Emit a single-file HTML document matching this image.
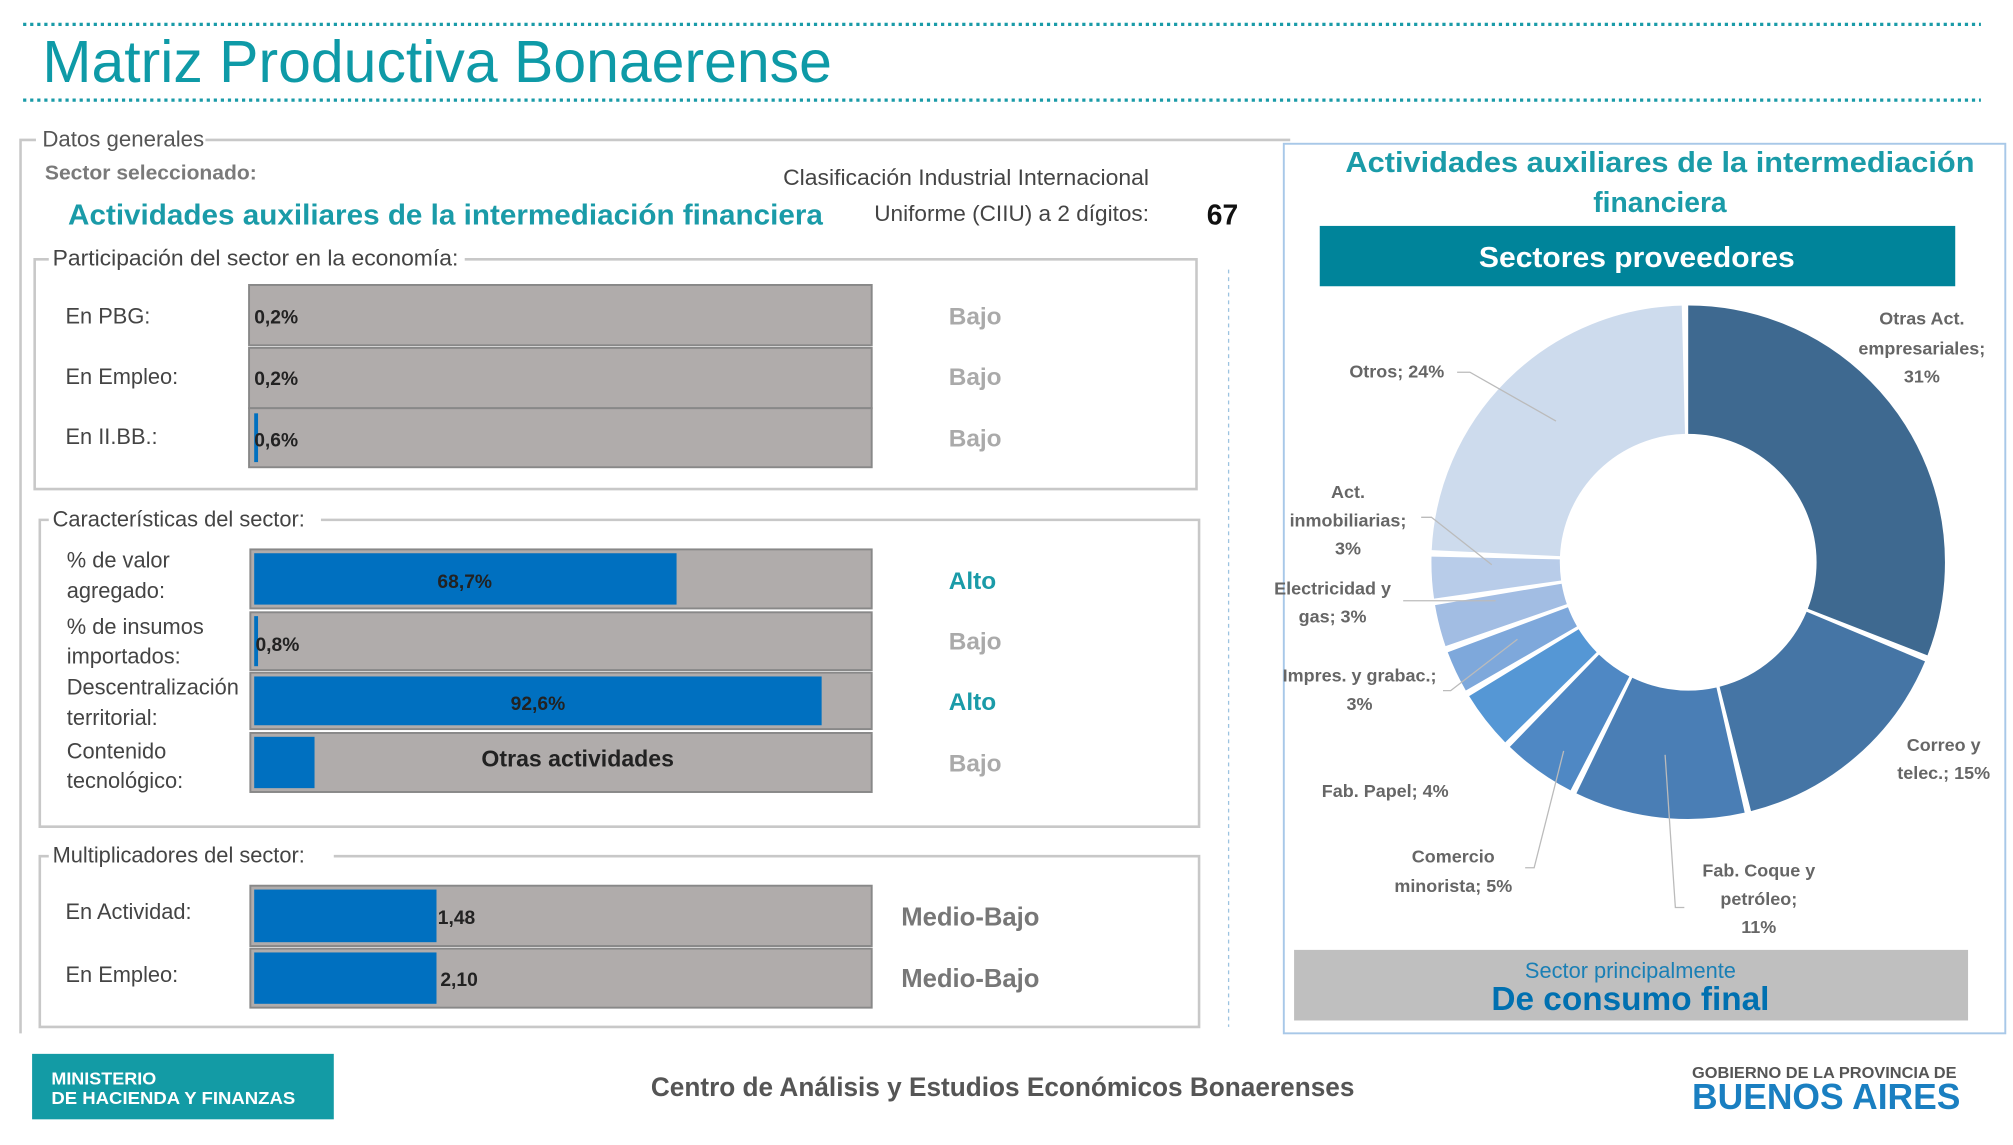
<!DOCTYPE html>
<html><head><meta charset="utf-8"><style>html,body{margin:0;padding:0;background:#fff;}svg{display:block;}</style></head>
<body>
<svg width="2013" height="1145" viewBox="0 0 1568 892" preserveAspectRatio="none" xmlns="http://www.w3.org/2000/svg" font-family="Liberation Sans, sans-serif">
<rect width="1568" height="892" fill="#fff"/>
<!-- header -->
<line x1="18" y1="19" x2="1543" y2="19" stroke="#1a9ba8" stroke-width="2.5" stroke-dasharray="2.5 3"/>
<line x1="18" y1="78" x2="1543" y2="78" stroke="#1a9ba8" stroke-width="2.5" stroke-dasharray="2.5 3"/>
<text x="33" y="64" font-size="46" fill="#0e9aa7" textLength="615" lengthAdjust="spacingAndGlyphs">Matriz Productiva Bonaerense</text>

<!-- Datos generales frame -->
<path d="M160 109 H1005 M28 109 H16 V805" stroke="#c8c8c8" stroke-width="2" fill="none"/>
<text x="33" y="114" font-size="17" fill="#555" textLength="126" lengthAdjust="spacingAndGlyphs">Datos generales</text>
<text x="35" y="140" font-size="16" font-weight="bold" fill="#7a7a7a" textLength="165" lengthAdjust="spacingAndGlyphs">Sector seleccionado:</text>
<text x="53" y="175" font-size="22" font-weight="bold" fill="#1a9ba8" textLength="588" lengthAdjust="spacingAndGlyphs">Actividades auxiliares de la intermediación financiera</text>
<text x="895" y="144" font-size="17" fill="#444" text-anchor="end" textLength="285" lengthAdjust="spacingAndGlyphs">Clasificación Industrial Internacional</text>
<text x="895" y="172" font-size="17" fill="#444" text-anchor="end" textLength="214" lengthAdjust="spacingAndGlyphs">Uniforme (CIIU) a 2 dígitos:</text>
<text x="940" y="175" font-size="22" font-weight="bold" fill="#111">67</text>

<!-- Participación -->
<path d="M38 202 H27 V381 H932 V202 H362" stroke="#c8c8c8" stroke-width="2" fill="none"/>
<text x="41" y="207" font-size="17" fill="#444" textLength="316" lengthAdjust="spacingAndGlyphs">Participación del sector en la economía:</text>
<g font-size="17" fill="#444">
<text x="51" y="252">En PBG:</text><text x="51" y="299">En Empleo:</text><text x="51" y="346">En II.BB.:</text>
</g>
<g stroke="#888" stroke-width="1.5" fill="#b0acab">
<rect x="194" y="222" width="485" height="47"/><rect x="194" y="271" width="485" height="47"/><rect x="194" y="318" width="485" height="46"/>
</g>
<rect x="198" y="322" width="3" height="38" fill="#0070c0"/>
<g font-size="15" font-weight="bold" fill="#222">
<text x="198" y="252">0,2%</text><text x="198" y="300">0,2%</text><text x="198" y="348">0,6%</text>
</g>
<g font-size="19" font-weight="bold" fill="#aaa">
<text x="739" y="253">Bajo</text><text x="739" y="300">Bajo</text><text x="739" y="348">Bajo</text>
</g>

<!-- Características -->
<path d="M38 405 H31 V644 H934 V405 H250" stroke="#c8c8c8" stroke-width="2" fill="none"/>
<text x="41" y="410" font-size="17" fill="#444">Características del sector:</text>
<g font-size="17" fill="#444">
<text x="52" y="442">% de valor</text><text x="52" y="466">agregado:</text>
<text x="52" y="494">% de insumos</text><text x="52" y="517">importados:</text>
<text x="52" y="541">Descentralización</text><text x="52" y="565">territorial:</text>
<text x="52" y="591">Contenido</text><text x="52" y="614">tecnológico:</text>
</g>
<g stroke="#888" stroke-width="1.5" fill="#b0acab">
<rect x="195" y="428" width="484" height="46"/><rect x="195" y="477" width="484" height="45"/><rect x="195" y="524" width="484" height="44"/><rect x="195" y="571" width="484" height="46"/>
</g>
<rect x="198" y="431" width="329" height="40" fill="#0070c0"/>
<rect x="198" y="480" width="3" height="39" fill="#0070c0"/>
<rect x="198" y="527" width="442" height="38" fill="#0070c0"/>
<rect x="198" y="574" width="47" height="40" fill="#0070c0"/>
<g font-size="15" font-weight="bold" fill="#222">
<text x="362" y="458" text-anchor="middle">68,7%</text><text x="199" y="507">0,8%</text><text x="419" y="553" text-anchor="middle">92,6%</text>
</g>
<text x="450" y="597" font-size="18" font-weight="bold" fill="#222" text-anchor="middle">Otras actividades</text>
<g font-size="19" font-weight="bold">
<text x="739" y="459" fill="#1a9ba8">Alto</text><text x="739" y="506" fill="#aaa">Bajo</text><text x="739" y="553" fill="#1a9ba8">Alto</text><text x="739" y="601" fill="#aaa">Bajo</text>
</g>

<!-- Multiplicadores -->
<path d="M38 667 H31 V800 H934 V667 H260" stroke="#c8c8c8" stroke-width="2" fill="none"/>
<text x="41" y="672" font-size="17" fill="#444">Multiplicadores del sector:</text>
<g font-size="17" fill="#444"><text x="51" y="716">En Actividad:</text><text x="51" y="765">En Empleo:</text></g>
<g stroke="#888" stroke-width="1.5" fill="#b0acab">
<rect x="195" y="690" width="484" height="47"/><rect x="195" y="739" width="484" height="46"/>
</g>
<rect x="198" y="693" width="142" height="41" fill="#0070c0"/>
<rect x="198" y="742" width="142" height="40" fill="#0070c0"/>
<g font-size="15" font-weight="bold" fill="#222"><text x="341" y="720">1,48</text><text x="343" y="768">2,10</text></g>
<g font-size="20" font-weight="bold" fill="#777"><text x="702" y="721">Medio-Bajo</text><text x="702" y="769">Medio-Bajo</text></g>

<line x1="957" y1="210" x2="957" y2="800" stroke="#9cc3e0" stroke-width="1" stroke-dasharray="3 3"/>

<!-- Right panel -->
<rect x="1000" y="112" width="562" height="693" fill="none" stroke="#a8c8e8" stroke-width="1.5"/>
<text x="1293" y="134" font-size="22" font-weight="bold" fill="#1a9ba8" text-anchor="middle" textLength="490" lengthAdjust="spacingAndGlyphs">Actividades auxiliares de la intermediación</text>
<text x="1293" y="165" font-size="22" font-weight="bold" fill="#1a9ba8" text-anchor="middle">financiera</text>
<rect x="1028" y="176" width="495" height="47" fill="#00849a"/>
<text x="1275" y="208" font-size="22" font-weight="bold" fill="#fff" text-anchor="middle" textLength="246" lengthAdjust="spacingAndGlyphs">Sectores proveedores</text>

<!-- Donut -->
<g transform="translate(1315 438) rotate(-90)" fill="none" stroke-width="100">
<circle r="150" pathLength="99" stroke="#3e6990" stroke-dasharray="30.6 99" stroke-dashoffset="0"/>
<circle r="150" pathLength="99" stroke="#4575a5" stroke-dasharray="14.6 99" stroke-dashoffset="-31"/>
<circle r="150" pathLength="99" stroke="#4a7eb5" stroke-dasharray="10.6 99" stroke-dashoffset="-46"/>
<circle r="150" pathLength="99" stroke="#4f88c4" stroke-dasharray="4.6 99" stroke-dashoffset="-57"/>
<circle r="150" pathLength="99" stroke="#5597d5" stroke-dasharray="3.6 99" stroke-dashoffset="-62"/>
<circle r="150" pathLength="99" stroke="#7ea8db" stroke-dasharray="2.6 99" stroke-dashoffset="-66"/>
<circle r="150" pathLength="99" stroke="#a2bde3" stroke-dasharray="2.6 99" stroke-dashoffset="-69"/>
<circle r="150" pathLength="99" stroke="#b8cce9" stroke-dasharray="2.6 99" stroke-dashoffset="-72"/>
<circle r="150" pathLength="99" stroke="#cddbed" stroke-dasharray="23.6 99" stroke-dashoffset="-75"/>
</g>
<g stroke="#bbb" stroke-width="1" fill="none">
<path d="M1135 290 H1145 L1212 328"/>
<path d="M1107 403 H1115 L1162 440"/>
<path d="M1093 468 H1165"/>
<path d="M1124 538 H1130 L1182 498"/>
<path d="M1188 676 H1195 L1218 585"/>
<path d="M1312 707 H1305 L1297 588"/>
</g>
<g font-size="14" font-weight="bold" fill="#666" text-anchor="middle">
<text x="1497" y="253">Otras Act.</text><text x="1497" y="276">empresariales;</text><text x="1497" y="298">31%</text>
<text x="1088" y="294">Otros; 24%</text>
<text x="1050" y="388">Act.</text><text x="1050" y="410">inmobiliarias;</text><text x="1050" y="432">3%</text>
<text x="1038" y="463">Electricidad y</text><text x="1038" y="485">gas; 3%</text>
<text x="1059" y="531">Impres. y grabac.;</text><text x="1059" y="553">3%</text>
<text x="1079" y="621">Fab. Papel; 4%</text>
<text x="1132" y="672">Comercio</text><text x="1132" y="695">minorista; 5%</text>
<text x="1370" y="683">Fab. Coque y</text><text x="1370" y="705">petróleo;</text><text x="1370" y="727">11%</text>
<text x="1514" y="585">Correo y</text><text x="1514" y="607">telec.; 15%</text>
</g>

<rect x="1008" y="740" width="525" height="55" fill="#bfbfbf"/>
<text x="1270" y="762" font-size="17" fill="#1a7fb5" text-anchor="middle">Sector principalmente</text>
<text x="1270" y="787" font-size="26" font-weight="bold" fill="#0070b0" text-anchor="middle">De consumo final</text>

<!-- Footer -->
<rect x="25" y="821" width="235" height="51" fill="#139ba5"/>
<text x="40" y="845" font-size="14" font-weight="bold" fill="#fff">MINISTERIO</text>
<text x="40" y="860" font-size="14" font-weight="bold" fill="#fff" textLength="190" lengthAdjust="spacingAndGlyphs">DE HACIENDA Y FINANZAS</text>
<text x="507" y="854" font-size="21" font-weight="bold" fill="#555" textLength="548" lengthAdjust="spacingAndGlyphs">Centro de Análisis y Estudios Económicos Bonaerenses</text>
<text x="1318" y="840" font-size="12" font-weight="bold" fill="#555" textLength="206" lengthAdjust="spacingAndGlyphs">GOBIERNO DE LA PROVINCIA DE</text>
<text x="1318" y="864" font-size="28" font-weight="bold" fill="#1a7fc1" textLength="209" lengthAdjust="spacingAndGlyphs">BUENOS AIRES</text>
</svg>
</body></html>
